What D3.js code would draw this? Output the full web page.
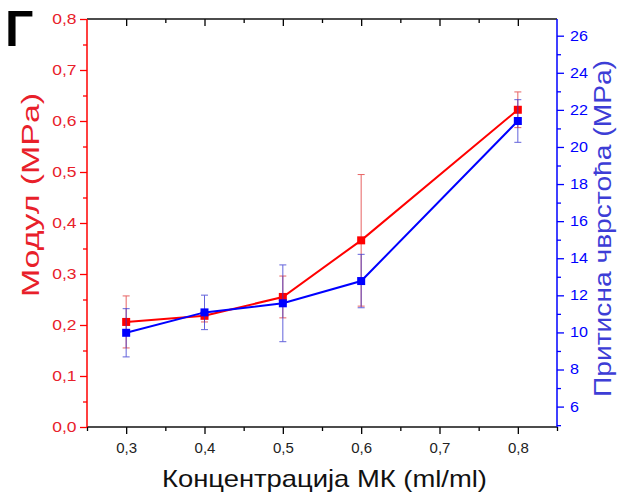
<!DOCTYPE html>
<html>
<head>
<meta charset="utf-8">
<script src="https://cdn.jsdelivr.net/npm/d3@7"></script>
<style>
  body { margin: 0; background: #fff; }
  text { font-family: "Liberation Sans", Arial, sans-serif; }
</style>
</head>
<body>
<div id="chart"></div>
<script>
// concentration of MK (ml/ml)
const conc = [0.3, 0.4, 0.5, 0.6, 0.8];
// modulus (MPa), left axis
const modulus = [0.206, 0.218, 0.255, 0.366, 0.622];
const modulusErr = [0.051, 0.012, 0.041, 0.129, 0.035];
// compressive strength (MPa), right axis
const strength = [9.98, 11.08, 11.57, 12.77, 21.4];
const strengthErr = [1.3, 0.93, 2.07, 1.44, 1.15];

const xTicks = [0.3, 0.4, 0.5, 0.6, 0.7, 0.8];
const xMinor = [0.25, 0.35, 0.45, 0.55, 0.65, 0.75, 0.85];
const leftTicks = [0, 0.1, 0.2, 0.3, 0.4, 0.5, 0.6, 0.7, 0.8];
const leftMinor = [0.05, 0.15, 0.25, 0.35, 0.45, 0.55, 0.65, 0.75];
const rightTicks = [6, 8, 10, 12, 14, 16, 18, 20, 22, 24, 26];
const rightMinor = [5, 7, 9, 11, 13, 15, 17, 19, 21, 23, 25];

const svgWidth = 622;
const svgHeight = 495;
const margin = { top: 19, right: 65, bottom: 68, left: 87 };
const width = svgWidth - margin.left - margin.right;
const height = svgHeight - margin.top - margin.bottom;

const RED = "#ff0000";
const BLUE = "#0000ff";
const RED_TEXT = "#e8202a";
const BLUE_TEXT = "#3d3dd6";

const svg = d3.select("#chart").append("svg")
    .attr("width", svgWidth)
    .attr("height", svgHeight);

const g = svg.append("g")
    .attr("transform", `translate(${margin.left}, ${margin.top})`);

const x = d3.scaleLinear().domain([0.25, 0.85]).range([0, width]);
const yL = d3.scaleLinear().domain([0, 0.8]).range([height, 0]);
const yR = d3.scaleLinear().domain([4.9, 26.9]).range([height, 0]);

const comma = d => d3.format(".1f")(d).replace(".", ",");

// stretch axis labels horizontally
function styleLabels(sel, sx, off, color) {
    sel.selectAll("text")
        .attr("fill", color)
        .attr("font-size", "14px")
        .attr("x", off / sx)
        .attr("transform", `scale(${sx},1)`);
}

function clean(sel, color) {
    sel.select(".domain").remove();
    sel.selectAll("line").attr("stroke", color).attr("stroke-width", 1.3);
}

// bottom axis
const xAxis = g.append("g")
    .attr("transform", `translate(0, ${height})`)
    .call(d3.axisBottom(x).tickValues(xTicks).tickFormat(comma).tickSize(7).tickPadding(8));
clean(xAxis, "#000");
xAxis.selectAll("text").attr("fill", "#222").attr("font-size", "15px");
g.append("g").attr("transform", `translate(0, ${height})`)
    .call(d3.axisBottom(x).tickValues(xMinor).tickFormat("").tickSize(4))
    .call(s => clean(s, "#000"));

// top axis (inward ticks)
g.append("g")
    .call(d3.axisBottom(x).tickValues(xTicks).tickFormat("").tickSize(7))
    .call(s => clean(s, "#000"));
g.append("g")
    .call(d3.axisBottom(x).tickValues(xMinor.slice(1, -1)).tickFormat("").tickSize(4))
    .call(s => clean(s, "#000"));

// left axis
const lAxis = g.append("g")
    .call(d3.axisLeft(yL).tickValues(leftTicks).tickFormat(comma).tickSize(7));
clean(lAxis, RED);
styleLabels(lAxis, 1.25, -10.5, RED_TEXT);
g.append("g")
    .call(d3.axisLeft(yL).tickValues(leftMinor).tickFormat("").tickSize(4))
    .call(s => clean(s, RED));

// right axis
const rAxis = g.append("g")
    .attr("transform", `translate(${width}, 0)`)
    .call(d3.axisRight(yR).tickValues(rightTicks).tickFormat(d3.format("d")).tickSize(7));
clean(rAxis, BLUE);
styleLabels(rAxis, 1.15, 13, BLUE);
g.append("g")
    .attr("transform", `translate(${width}, 0)`)
    .call(d3.axisRight(yR).tickValues(rightMinor).tickFormat("").tickSize(4))
    .call(s => clean(s, BLUE));

// frame lines
g.append("line").attr("x1", 0).attr("x2", width).attr("y1", 0).attr("y2", 0)
    .attr("stroke", "#111").attr("stroke-width", 1.5);
g.append("line").attr("x1", 0).attr("x2", width).attr("y1", height).attr("y2", height)
    .attr("stroke", "#111").attr("stroke-width", 1.5);
g.append("line").attr("x1", 0).attr("x2", 0).attr("y1", 0).attr("y2", height)
    .attr("stroke", RED).attr("stroke-width", 1.5);
g.append("line").attr("x1", width).attr("x2", width).attr("y1", 0).attr("y2", height)
    .attr("stroke", BLUE).attr("stroke-width", 1.5);

// series drawing
function drawSeries(vals, errs, yScale, color, errColor) {
    const pts = conc.map((c, i) => ({ c: c, v: vals[i], e: errs[i] }));
    const eb = g.append("g").attr("stroke", errColor).attr("stroke-width", 1).attr("opacity", 0.75);
    pts.forEach(p => {
        const cx = x(p.c);
        const y1 = yScale(p.v + p.e), y2 = yScale(p.v - p.e);
        eb.append("line").attr("x1", cx).attr("x2", cx).attr("y1", y1).attr("y2", y2);
        eb.append("line").attr("x1", cx - 3.5).attr("x2", cx + 3.5).attr("y1", y1).attr("y2", y1);
        eb.append("line").attr("x1", cx - 3.5).attr("x2", cx + 3.5).attr("y1", y2).attr("y2", y2);
    });
    g.append("path")
        .datum(pts)
        .attr("fill", "none")
        .attr("stroke", color)
        .attr("stroke-width", 2)
        .attr("d", d3.line().x(d => x(d.c)).y(d => yScale(d.v)));
    g.selectAll(null)
        .data(pts)
        .enter()
        .append("rect")
        .attr("x", d => x(d.c) - 4)
        .attr("y", d => yScale(d.v) - 4)
        .attr("width", 8)
        .attr("height", 8)
        .attr("fill", color);
}

drawSeries(modulus, modulusErr, yL, RED, "#e03030");
drawSeries(strength, strengthErr, yR, BLUE, "#3030d0");

// axis titles
svg.append("text")
    .attr("x", 324.5)
    .attr("y", 487)
    .attr("text-anchor", "middle")
    .attr("font-size", "24px")
    .attr("fill", "#111")
    .attr("textLength", 325)
    .attr("lengthAdjust", "spacingAndGlyphs")
    .text("Концентрација МК (ml/ml)");

svg.append("text")
    .attr("transform", "translate(38.5, 195) rotate(-90)")
    .attr("text-anchor", "middle")
    .attr("font-size", "23px")
    .attr("fill", RED_TEXT)
    .attr("textLength", 204)
    .attr("lengthAdjust", "spacingAndGlyphs")
    .text("Модул (MPa)");

svg.append("text")
    .attr("transform", "translate(611, 228.5) rotate(-90)")
    .attr("text-anchor", "middle")
    .attr("font-size", "23px")
    .attr("fill", BLUE_TEXT)
    .attr("textLength", 337)
    .attr("lengthAdjust", "spacingAndGlyphs")
    .text("Притисна чврстоћа (MPa)");

// panel letter
svg.append("text")
    .attr("x", 5)
    .attr("y", 46)
    .attr("font-size", "50px")
    .attr("font-weight", "bold")
    .attr("fill", "#000")
    .text("Г");
</script>
</body>
</html>
